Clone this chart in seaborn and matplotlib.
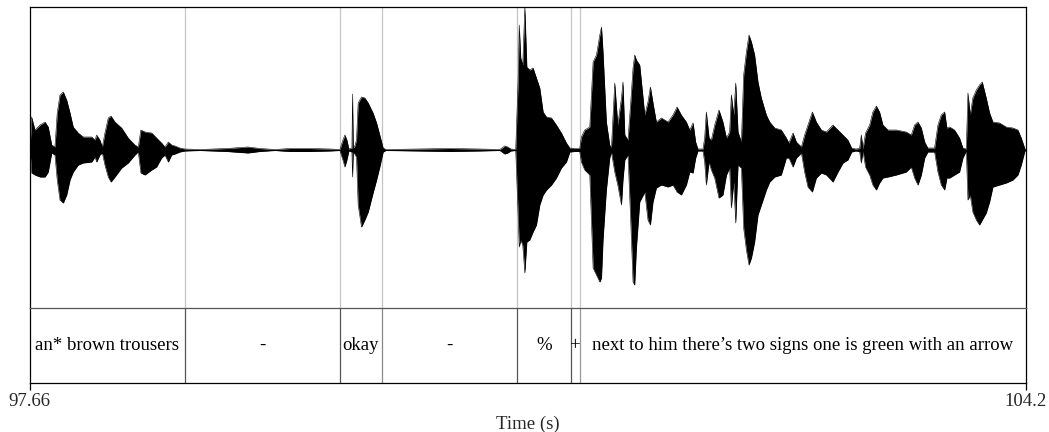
import matplotlib
matplotlib.use("Agg")
import matplotlib.pyplot as plt
import numpy as np
import pandas as pd
import seaborn as sns

# Time window of the excerpt (s)
t_start, t_end = 97.66, 104.2

# Waveform envelope: time (s), positive and negative peak amplitude (Pa)
times = [
    97.663, 97.674, 97.696, 97.729, 97.762, 97.783, 97.806, 97.827, 97.842, 97.860,
    97.882, 97.904, 97.926, 97.947, 97.980, 98.013, 98.068, 98.090, 98.101, 98.122,
    98.138, 98.155, 98.177, 98.195, 98.221, 98.265, 98.308, 98.352, 98.374, 98.391,
    98.418, 98.462, 98.494, 98.527, 98.549, 98.571, 98.593, 98.615, 98.647, 98.680,
    98.778, 98.956, 99.093, 99.172, 99.270, 99.369, 99.500, 99.631, 99.697, 99.717,
    99.730, 99.743, 99.756, 99.776, 99.780, 99.785, 99.795, 99.806, 99.817, 99.839,
    99.861, 99.883, 99.915, 99.938, 99.959, 99.981, 99.999,
    100.222, 100.419, 100.615, 100.747, 100.779, 100.799, 100.819, 100.851,
    100.867, 100.874, 100.884, 100.897, 100.911, 100.924, 100.943, 100.965, 100.987, 101.009,
    101.031, 101.053, 101.086, 101.118, 101.151, 101.184, 101.206, 101.239, 101.271, 101.282,
    101.304, 101.337, 101.359, 101.381, 101.403, 101.414, 101.424, 101.446, 101.468, 101.479,
    101.501, 101.521, 101.545, 101.555, 101.567, 101.588, 101.606, 101.621, 101.632, 101.643,
    101.665, 101.698, 101.719, 101.735, 101.752, 101.774, 101.807, 101.851, 101.883, 101.910,
    101.938, 101.971, 101.993, 102.015, 102.032, 102.047, 102.080, 102.091, 102.102, 102.120,
    102.135, 102.157, 102.185, 102.211, 102.234, 102.255, 102.266, 102.282, 102.295, 102.310,
    102.332, 102.347, 102.365, 102.382, 102.398, 102.419, 102.441, 102.463, 102.496, 102.518,
    102.551, 102.594, 102.627, 102.644, 102.671, 102.693, 102.726, 102.747, 102.769, 102.798,
    102.824, 102.857, 102.890, 102.933, 102.966, 102.999, 103.031, 103.056, 103.082, 103.108,
    103.119, 103.130, 103.147, 103.174, 103.195, 103.218, 103.239, 103.261, 103.294, 103.349,
    103.414, 103.447, 103.469, 103.491, 103.513, 103.535, 103.556, 103.600, 103.622, 103.644,
    103.666, 103.681, 103.699, 103.731, 103.764, 103.786, 103.808, 103.819, 103.834, 103.851,
    103.874, 103.895, 103.913, 103.939, 103.961, 103.983, 104.027, 104.070, 104.114, 104.147,
    104.169, 104.191, 104.197,
]
upper = [
    0.000, 0.066, 0.040, 0.050, 0.056, 0.046, 0.010, 0.006, 0.074, 0.110,
    0.116, 0.100, 0.074, 0.046, 0.034, 0.026, 0.026, 0.020, 0.030, 0.020,
    0.006, 0.034, 0.064, 0.068, 0.056, 0.044, 0.024, 0.010, 0.006, 0.040,
    0.036, 0.034, 0.024, 0.014, 0.006, 0.016, 0.010, 0.008, 0.004, 0.002,
    0.001, 0.003, 0.006, 0.003, 0.001, 0.003, 0.003, 0.002, 0.001, 0.020,
    0.030, 0.020, 0.002, 0.004, 0.112, 0.004, 0.008, 0.020, 0.094, 0.106,
    0.104, 0.094, 0.074, 0.054, 0.030, 0.004, 0.001,
    0.002, 0.003, 0.002, 0.001, 0.008, 0.006, 0.002, 0.001,
    0.140, 0.250, 0.184, 0.170, 0.286, 0.166, 0.160, 0.164, 0.144, 0.124,
    0.076, 0.066, 0.064, 0.050, 0.034, 0.014, 0.004, 0.003, 0.003, 0.026,
    0.040, 0.046, 0.176, 0.190, 0.230, 0.246, 0.196, 0.056, 0.010, 0.004,
    0.134, 0.050, 0.104, 0.136, 0.030, 0.020, 0.096, 0.164, 0.190, 0.180,
    0.170, 0.070, 0.096, 0.126, 0.094, 0.056, 0.064, 0.056, 0.070, 0.086,
    0.070, 0.056, 0.040, 0.054, 0.016, 0.002, 0.002, 0.024, 0.076, 0.024,
    0.020, 0.050, 0.080, 0.056, 0.024, 0.036, 0.110, 0.070, 0.134, 0.036,
    0.016, 0.150, 0.196, 0.230, 0.216, 0.190, 0.136, 0.104, 0.070, 0.056,
    0.044, 0.040, 0.024, 0.014, 0.034, 0.016, 0.006, 0.030, 0.050, 0.076,
    0.056, 0.040, 0.036, 0.050, 0.040, 0.030, 0.020, 0.004, 0.002, 0.003,
    0.030, 0.002, 0.034, 0.050, 0.076, 0.088, 0.076, 0.050, 0.040, 0.040,
    0.036, 0.030, 0.050, 0.056, 0.044, 0.016, 0.004, 0.004, 0.050, 0.070,
    0.076, 0.044, 0.046, 0.040, 0.024, 0.004, 0.002, 0.114, 0.070, 0.104,
    0.120, 0.130, 0.136, 0.104, 0.074, 0.056, 0.054, 0.046, 0.044, 0.040,
    0.024, 0.004, 0.000,
]
lower = [
    -0.000, -0.046, -0.050, -0.054, -0.054, -0.044, -0.006, -0.010, -0.060, -0.100,
    -0.106, -0.090, -0.060, -0.044, -0.030, -0.026, -0.024, -0.014, -0.024, -0.010,
    -0.006, -0.030, -0.054, -0.064, -0.054, -0.036, -0.026, -0.010, -0.004, -0.046,
    -0.050, -0.040, -0.034, -0.016, -0.010, -0.024, -0.010, -0.008, -0.004, -0.002,
    -0.001, -0.003, -0.006, -0.003, -0.001, -0.003, -0.003, -0.002, -0.001, -0.020,
    -0.034, -0.020, -0.002, -0.004, -0.054, -0.004, -0.008, -0.014, -0.110, -0.154,
    -0.140, -0.124, -0.086, -0.060, -0.034, -0.004, -0.001,
    -0.002, -0.003, -0.002, -0.001, -0.008, -0.006, -0.002, -0.001,
    -0.130, -0.194, -0.180, -0.190, -0.246, -0.184, -0.180, -0.164, -0.150, -0.110,
    -0.090, -0.080, -0.070, -0.056, -0.036, -0.024, -0.004, -0.003, -0.003, -0.024,
    -0.040, -0.050, -0.236, -0.250, -0.264, -0.256, -0.180, -0.080, -0.016, -0.004,
    -0.044, -0.070, -0.110, -0.060, -0.020, -0.010, -0.144, -0.264, -0.270, -0.196,
    -0.104, -0.084, -0.140, -0.150, -0.104, -0.076, -0.070, -0.074, -0.070, -0.084,
    -0.090, -0.070, -0.044, -0.046, -0.016, -0.002, -0.002, -0.024, -0.070, -0.024,
    -0.040, -0.056, -0.096, -0.090, -0.050, -0.036, -0.116, -0.064, -0.146, -0.030,
    -0.036, -0.156, -0.200, -0.230, -0.216, -0.184, -0.130, -0.110, -0.080, -0.064,
    -0.054, -0.050, -0.016, -0.016, -0.034, -0.016, -0.006, -0.044, -0.074, -0.084,
    -0.056, -0.046, -0.050, -0.064, -0.044, -0.026, -0.020, -0.004, -0.002, -0.003,
    -0.026, -0.002, -0.034, -0.050, -0.070, -0.080, -0.066, -0.056, -0.054, -0.050,
    -0.044, -0.034, -0.056, -0.070, -0.050, -0.016, -0.004, -0.004, -0.044, -0.070,
    -0.080, -0.056, -0.056, -0.050, -0.044, -0.016, -0.002, -0.100, -0.090, -0.124,
    -0.140, -0.150, -0.140, -0.126, -0.104, -0.074, -0.070, -0.066, -0.060, -0.050,
    -0.030, -0.004, -0.000,
]

# Annotation tier: interval boundaries (s) and their labels
boundaries = [98.680, 99.697, 99.972, 100.858, 101.212, 101.271]
interval_labels = [
    "an* brown trousers", "-", "okay", "-", "%", "+",
    "next to him there\u2019s two signs one is green with an arrow",
]

sns.set_theme(style="white")
plt.rcParams["font.family"] = ["Liberation Serif", "DejaVu Serif"]

W, H = 1049, 432
fig = plt.figure(figsize=(W / 100, H / 100), dpi=100)
left, right = 29.5, 1026.0
ax_w = fig.add_axes([left / W, 1 - 308 / H, (right - left) / W, 301 / H])
ax_t = fig.add_axes([left / W, 1 - 383 / H, (right - left) / W, 75 / H], sharex=ax_w)

wave = pd.DataFrame({"time": times, "upper": upper, "lower": lower})

# Boundary extensions through the waveform panel
for b in boundaries:
    ax_w.axvline(b, color="#c4c4c4", lw=0.9, zorder=0)

ax_w.fill_between(wave["time"], wave["lower"], wave["upper"], color="black", lw=0, zorder=2)
sns.lineplot(data=wave, x="time", y="upper", ax=ax_w, color="black", lw=0.4, zorder=3)
sns.lineplot(data=wave, x="time", y="lower", ax=ax_w, color="black", lw=0.4, zorder=3)

ax_w.set_xlim(t_start, t_end)
ax_w.set_ylim(-0.316, 0.286)
ax_w.set_xlabel("")
ax_w.set_ylabel("")
ax_w.tick_params(bottom=False, left=False, labelbottom=False, labelleft=False)
for side in ("top", "left", "right"):
    ax_w.spines[side].set_color("black")
    ax_w.spines[side].set_linewidth(0.9)
ax_w.spines["bottom"].set_visible(False)

# Tier intervals
tier_shades = ["#555555", "#555555", "#888888", "#555555", "#555555", "#999999"]
for b, c in zip(boundaries, tier_shades):
    ax_t.axvline(b, color=c, lw=0.9)
edges = [t_start] + boundaries + [t_end]
for i, lab in enumerate(interval_labels):
    ax_t.text((edges[i] + edges[i + 1]) / 2, 0.5, lab, ha="center", va="center",
              fontsize=13.5, color="black", transform=ax_t.get_xaxis_transform())

ax_t.set_ylim(0, 1)
ax_t.set_yticks([])
ax_t.set_xticks([t_start, t_end])
ax_t.set_xticklabels(["97.66", "104.2"])
ax_t.tick_params(axis="x", direction="out", length=5, width=0.9, color="black",
                 labelsize=13.5, pad=2, bottom=True, labelbottom=True)
ax_t.spines["top"].set_color("#555555")
ax_t.spines["top"].set_linewidth(0.9)
for side in ("bottom", "left", "right"):
    ax_t.spines[side].set_color("black")
    ax_t.spines[side].set_linewidth(0.9)
ax_t.set_xlabel("Time (s)", fontsize=13.5, labelpad=4)

fig.savefig("out.png", dpi=100)
